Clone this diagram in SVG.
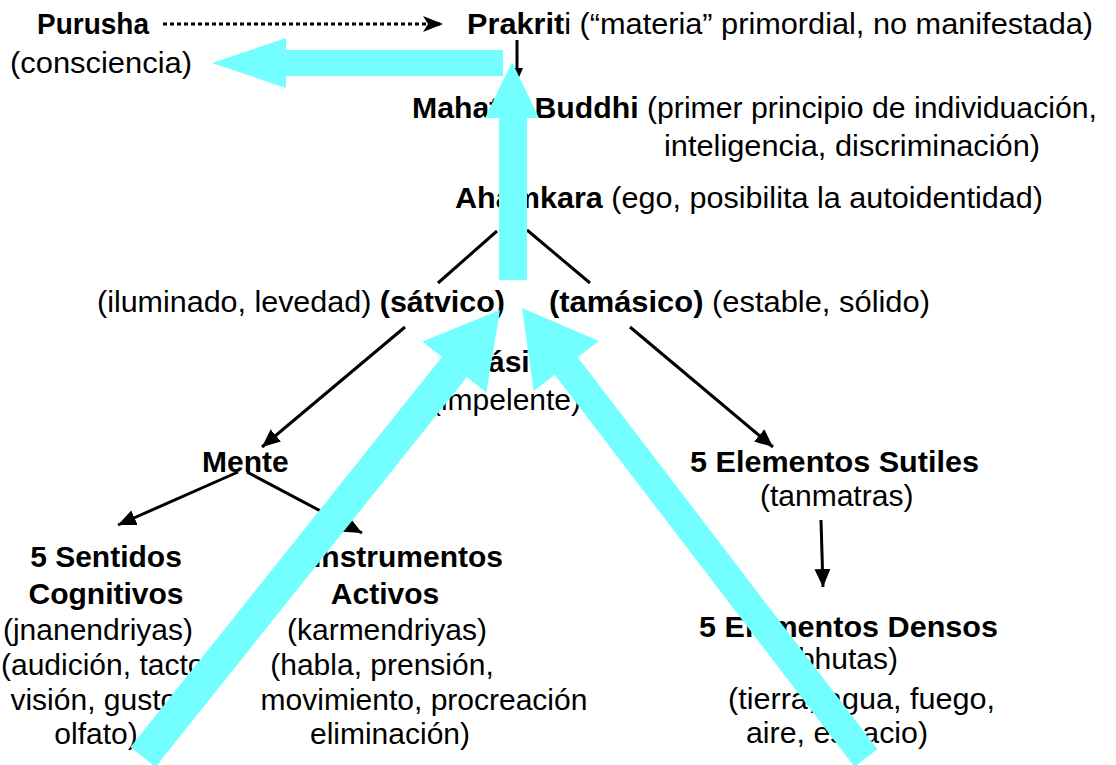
<svg xmlns="http://www.w3.org/2000/svg" width="1116" height="765" viewBox="0 0 1116 765">
<style>
text{font-family:"Liberation Sans",Arial,Helvetica,sans-serif;font-size:30px;fill:#000}
.b{font-weight:bold}
.m{text-anchor:middle}
.e{text-anchor:end}
.ln{stroke:#000;stroke-width:3;fill:none}
.flow{fill:#73FFFF;stroke:none}
</style>
<defs>
<marker id="ah" markerUnits="userSpaceOnUse" markerWidth="20" markerHeight="16" refX="18" refY="8" orient="auto">
<path d="M0,0 L18,8 L0,16 z" fill="#000"/>
</marker>
<marker id="ahs" markerUnits="userSpaceOnUse" markerWidth="16" markerHeight="14" refX="14" refY="7" orient="auto">
<path d="M0,1 L14,7 L0,13 z" fill="#000"/>
</marker>
<marker id="ahd" markerUnits="userSpaceOnUse" markerWidth="22" markerHeight="18" refX="20" refY="9" orient="auto">
<path d="M0,1 L20,9 L0,17 L5,9 z" fill="#000"/>
</marker>
</defs>
<rect width="1116" height="765" fill="#fff"/>

<g id="purusha">
<text class="b" x="37" y="34" textLength="112" lengthAdjust="spacingAndGlyphs">Purusha</text>
<text x="10" y="73" textLength="182" lengthAdjust="spacingAndGlyphs">(consciencia)</text>
</g>
<g id="prakriti">
<text x="467" y="34" textLength="626" lengthAdjust="spacingAndGlyphs"><tspan class="b">Prakrit</tspan>i (“materia” primordial, no manifestada)</text>
</g>
<g id="mahat">
<text x="412" y="118" textLength="685" lengthAdjust="spacingAndGlyphs"><tspan class="b">Mahat o Buddhi</tspan> (primer principio de individuación,</text>
<text x="664" y="156" textLength="376" lengthAdjust="spacingAndGlyphs">inteligencia, discriminación)</text>
</g>
<g id="ahamkara">
<text x="455" y="208" textLength="588" lengthAdjust="spacingAndGlyphs"><tspan class="b">Ahamkara</tspan> (ego, posibilita la autoidentidad)</text>
</g>
<g id="satvico">
<text x="97" y="312" textLength="408" lengthAdjust="spacingAndGlyphs">(iluminado, levedad) <tspan class="b">(sátvico)</tspan></text>
</g>
<g id="tamasico">
<text x="549" y="312" textLength="381" lengthAdjust="spacingAndGlyphs"><tspan class="b">(tamásico)</tspan> (estable, sólido)</text>
</g>
<g id="rajasico">
<text class="b m" x="508" y="372">(rajásico)</text>
<text class="m" x="506" y="410">(impelente)</text>
</g>
<g id="mente">
<text class="b" x="202" y="472">Mente</text>
</g>
<g id="sentidos">
<text class="b m" x="106" y="567">5 Sentidos</text>
<text class="b m" x="106" y="604">Cognitivos</text>
<text class="m" x="98" y="640">(jnanendriyas)</text>
<text x="1" y="675">(audición, tacto,</text>
<text class="m" x="98" y="710">visión, gusto,</text>
<text class="m" x="96" y="744">olfato)</text>
</g>
<g id="instrumentos">
<text class="b e" x="503" y="567">5 Instrumentos</text>
<text class="b m" x="385" y="604">Activos</text>
<text class="m" x="387" y="640">(karmendriyas)</text>
<text class="m" x="382" y="675">(habla, prensión,</text>
<text class="m" x="424" y="710">movimiento, procreación</text>
<text class="m" x="390" y="744">eliminación)</text>
</g>
<g id="sutiles">
<text class="b" x="690" y="472" textLength="289" lengthAdjust="spacingAndGlyphs">5 Elementos Sutiles</text>
<text x="760" y="506">(tanmatras)</text>
</g>
<g id="densos">
<text class="b" x="699" y="637" textLength="299" lengthAdjust="spacingAndGlyphs">5 Elementos Densos</text>
<text class="e" x="898" y="669">(bhutas)</text>
<text x="728" y="709" textLength="267" lengthAdjust="spacingAndGlyphs">(tierra, agua, fuego,</text>
<text x="746" y="743" textLength="182" lengthAdjust="spacingAndGlyphs">aire, espacio)</text>
</g>

<g id="connectors">
<line class="ln" x1="163" y1="24" x2="443" y2="24" stroke-width="4" stroke-dasharray="4,3" marker-end="url(#ahd)"/>
<line class="ln" x1="517" y1="40" x2="517" y2="82" marker-end="url(#ahs)"/>
<line class="ln" x1="497" y1="231" x2="438" y2="283"/>
<line class="ln" x1="527" y1="230" x2="590" y2="283"/>
<line class="ln" x1="405" y1="327" x2="262" y2="447" marker-end="url(#ah)"/>
<line class="ln" x1="630" y1="327" x2="773" y2="447" marker-end="url(#ah)"/>
<line class="ln" x1="238" y1="472" x2="118" y2="525" marker-end="url(#ah)"/>
<line class="ln" x1="247" y1="472" x2="362" y2="533" marker-end="url(#ah)"/>
<line class="ln" x1="821" y1="520" x2="823" y2="587" marker-end="url(#ah)"/>
<g id="flow">
<polygon class="flow" points="503,50 286,50 286,38 212,63 286,88 286,76 503,76"/>
<polygon class="flow" points="499,280 499,118 485,118 512,62 539,118 527,118 527,280"/>
<polygon class="flow" points="130.5,747 441.9,357 422.4,341.4 500,310 486.4,392.6 466.9,377 155.5,767"/>
<polygon class="flow" points="877.5,749.2 577.8,357.2 598.9,341.1 522,308 533.7,390.9 554.8,374.8 854.5,766.8"/>
</g>
</g>
</svg>
